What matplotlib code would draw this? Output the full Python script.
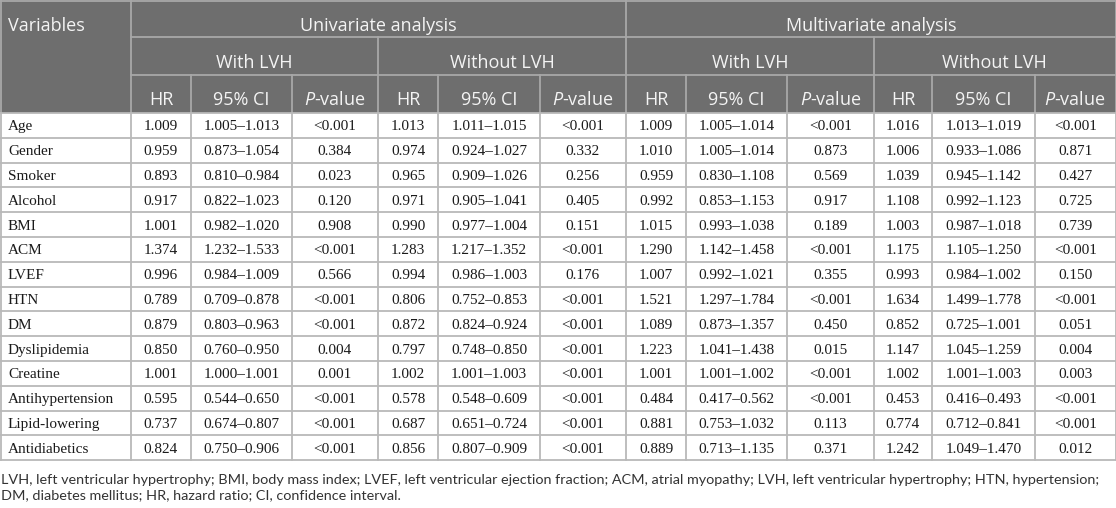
import matplotlib.pyplot as plt
from matplotlib.patches import Rectangle

plt.rcParams['mathtext.fontset'] = 'custom'
plt.rcParams['mathtext.rm'] = 'Open Sans'
plt.rcParams['mathtext.it'] = 'Open Sans:italic'

variables = ["Age", "Gender", "Smoker", "Alcohol", "BMI", "ACM", "LVEF", "HTN", "DM",
             "Dyslipidemia", "Creatine", "Antihypertension", "Lipid-lowering", "Antidiabetics"]

uni_with_hr = ["1.009", "0.959", "0.893", "0.917", "1.001", "1.374", "0.996", "0.789", "0.879",
               "0.850", "1.001", "0.595", "0.737", "0.824"]
uni_with_ci = ["1.005–1.013", "0.873–1.054", "0.810–0.984", "0.822–1.023", "0.982–1.020", "1.232–1.533",
               "0.984–1.009", "0.709–0.878", "0.803–0.963", "0.760–0.950", "1.000–1.001", "0.544–0.650",
               "0.674–0.807", "0.750–0.906"]
uni_with_p = ["<0.001", "0.384", "0.023", "0.120", "0.908", "<0.001", "0.566", "<0.001", "<0.001",
              "0.004", "0.001", "<0.001", "<0.001", "<0.001"]

uni_without_hr = ["1.013", "0.974", "0.965", "0.971", "0.990", "1.283", "0.994", "0.806", "0.872",
                  "0.797", "1.002", "0.578", "0.687", "0.856"]
uni_without_ci = ["1.011–1.015", "0.924–1.027", "0.909–1.026", "0.905–1.041", "0.977–1.004", "1.217–1.352",
                  "0.986–1.003", "0.752–0.853", "0.824–0.924", "0.748–0.850", "1.001–1.003", "0.548–0.609",
                  "0.651–0.724", "0.807–0.909"]
uni_without_p = ["<0.001", "0.332", "0.256", "0.405", "0.151", "<0.001", "0.176", "<0.001", "<0.001",
                 "<0.001", "<0.001", "<0.001", "<0.001", "<0.001"]

multi_with_hr = ["1.009", "1.010", "0.959", "0.992", "1.015", "1.290", "1.007", "1.521", "1.089",
                 "1.223", "1.001", "0.484", "0.881", "0.889"]
multi_with_ci = ["1.005–1.014", "1.005–1.014", "0.830–1.108", "0.853–1.153", "0.993–1.038", "1.142–1.458",
                 "0.992–1.021", "1.297–1.784", "0.873–1.357", "1.041–1.438", "1.001–1.002", "0.417–0.562",
                 "0.753–1.032", "0.713–1.135"]
multi_with_p = ["<0.001", "0.873", "0.569", "0.917", "0.189", "<0.001", "0.355", "<0.001", "0.450",
                "0.015", "<0.001", "<0.001", "0.113", "0.371"]

multi_without_hr = ["1.016", "1.006", "1.039", "1.108", "1.003", "1.175", "0.993", "1.634", "0.852",
                    "1.147", "1.002", "0.453", "0.774", "1.242"]
multi_without_ci = ["1.013–1.019", "0.933–1.086", "0.945–1.142", "0.992–1.123", "0.987–1.018", "1.105–1.250",
                    "0.984–1.002", "1.499–1.778", "0.725–1.001", "1.045–1.259", "1.001–1.003", "0.416–0.493",
                    "0.712–0.841", "1.049–1.470"]
multi_without_p = ["<0.001", "0.871", "0.427", "0.725", "0.739", "<0.001", "0.150", "<0.001", "0.051",
                   "0.004", "0.003", "<0.001", "<0.001", "0.012"]

groups = ["Univariate analysis", "Multivariate analysis"]
subgroups = ["With LVH", "Without LVH", "With LVH", "Without LVH"]
stat_labels = ["HR", "95% CI", "$\\it{P}$-value"]

footnote = ["LVH, left ventricular hypertrophy; BMI, body mass index; LVEF, left ventricular ejection fraction; "
            "ACM, atrial myopathy; LVH, left ventricular hypertrophy; HTN, hypertension;",
            "DM, diabetes mellitus; HR, hazard ratio; CI, confidence interval."]

columns = [uni_with_hr, uni_with_ci, uni_with_p, uni_without_hr, uni_without_ci, uni_without_p,
           multi_with_hr, multi_with_ci, multi_with_p, multi_without_hr, multi_without_ci, multi_without_p]

# layout (pixels)
W, H = 1116, 508
col_edges = [0, 131, 191, 292, 378, 438, 540, 626, 686, 787, 874, 932, 1035, 1115.5]
head_rows = [0, 37, 75, 113]
head_base = [31, 68, 105]
row_h = 24.8
body_top = 113

head_bg = "#6e6e6e"
head_line = "#a8a8a8"
body_line = "#b9b9b9"
head_txt = "#f4f4f4"

fig = plt.figure(figsize=(W / 100, H / 100), dpi=100)
ax = fig.add_axes([0, 0, 1, 1])
ax.set_xlim(0, W)
ax.set_ylim(H, 0)
ax.axis("off")

# header background
ax.add_patch(Rectangle((0, 0), W, head_rows[-1], facecolor=head_bg, edgecolor="none"))
lw = 1.3
# header lines
ax.plot([col_edges[1], W], [head_rows[1]] * 2, color=head_line, lw=lw)
ax.plot([col_edges[1], W], [head_rows[2]] * 2, color=head_line, lw=lw)
for i in [1, 7]:
    ax.plot([col_edges[i]] * 2, [0, head_rows[3]], color=head_line, lw=lw)
for i in [4, 10]:
    ax.plot([col_edges[i]] * 2, [head_rows[1], head_rows[3]], color=head_line, lw=lw)
for i in [2, 3, 5, 6, 8, 9, 11, 12]:
    ax.plot([col_edges[i]] * 2, [head_rows[2], head_rows[3]], color=head_line, lw=lw)
ax.plot([0.5] * 2, [0, head_rows[3]], color=head_line, lw=lw)
ax.plot([W - 0.5] * 2, [0, head_rows[3]], color=head_line, lw=lw)
ax.plot([0, W], [0.5, 0.5], color=head_line, lw=lw)

# header text
hfont = dict(family="Open Sans", color=head_txt, fontsize=13)
ax.text(8, head_base[0], "Variables", ha="left", va="baseline", **hfont)
for g, name in enumerate(groups):
    x0, x1 = col_edges[1 + 6 * g], col_edges[7 + 6 * g]
    ax.text((x0 + x1) / 2, head_base[0], name, ha="center", va="baseline", **hfont)
for s, name in enumerate(subgroups):
    x0, x1 = col_edges[1 + 3 * s], col_edges[4 + 3 * s]
    ax.text((x0 + x1) / 2, head_base[1], name, ha="center", va="baseline", **hfont)
for c in range(12):
    x0, x1 = col_edges[1 + c], col_edges[2 + c]
    ax.text((x0 + x1) / 2, head_base[2], stat_labels[c % 3],
            ha="center", va="baseline", **hfont)

# body
n = len(variables)
body_bot = body_top + n * row_h
for r in range(n + 1):
    y = body_top + r * row_h
    ax.plot([0, W], [y, y], color=body_line, lw=lw)
for x in col_edges:
    xx = min(max(x, 0.5), W - 0.5)
    ax.plot([xx, xx], [body_top, body_bot], color=body_line, lw=lw)

bfont = dict(family="Liberation Serif", color="#1a1a1a", fontsize=11)
for r, name in enumerate(variables):
    yb = body_top + r * row_h + 17.3
    ax.text(8, yb, name, ha="left", va="baseline", **bfont)
    for c, col in enumerate(columns):
        x0, x1 = col_edges[1 + c], col_edges[2 + c]
        ax.text((x0 + x1) / 2, yb, col[r], ha="center", va="baseline", **bfont)

# footnote
for i, line in enumerate(footnote):
    ax.text(1, 484 + 15.5 * i, line, ha="left", va="baseline", family="Lato", fontsize=10.4, color="#333333")

fig.savefig("out.png", dpi=100)
